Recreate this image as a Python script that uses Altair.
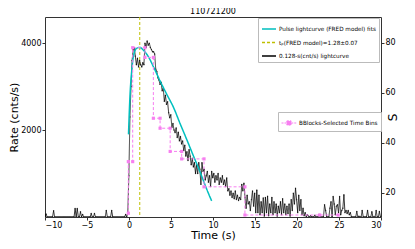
import altair as alt
import pandas as pd

# ---------------- data ----------------
BIN = 0.128
T_START = -10.0
rate = [
    0, 70, 0, 0, 0, 0, 0, 0, 145, 0,
    0, 0, 0, 0, 0, 0, 0, 0, 0, 0,
    0, 0, 0, 0, 0, 0, 0, 0, 195, 0,
    195, 0, 0, 120, 0, 60, 0, 0, 0, 0,
    0, 0, 0, 80, 0, 0, 80, 0, 0, 0,
    0, 0, 0, 0, 0, 0, 0, 150, 0, 0,
    0, 0, 150, 0, 0, 0, 0, 0, 0, 0,
    0, 0, 0, 0, 0, 60, 0, 100, 950, 2300,
    3000, 3600, 3850, 3900, 3700, 3500, 3650, 3450, 3600, 3500,
    3450, 3550, 3500, 4000, 3900, 4050, 3950, 4000, 3900, 3850,
    3800, 3800, 3750, 3400, 3350, 3200, 3150, 3050, 3100, 2900,
    2960, 2660, 2800, 2590, 2650, 2400, 2280, 2350, 2060, 2150,
    2000, 1940, 2050, 1830, 1950, 1750, 1850, 1680, 1750, 1530,
    1650, 1400, 1500, 1300, 1550, 1400, 1200, 1350, 1150, 1250,
    1000, 1200, 1000, 1250, 1100, 750, 1250, 1050, 1100, 850,
    950, 1050, 800, 950, 700, 1050, 900, 1000, 800, 950,
    850, 1000, 750, 900, 800, 950, 750, 850, 700, 900,
    600, 650, 500, 600, 450, 550, 420, 600, 400, 500,
    380, 450, 400, 750, 600, 780, 450, 200, 500, 300,
    350, 150, 400, 600, 250, 550, 100, 620, 100, 500,
    50, 350, 100, 440, 20, 450, 100, 480, 30, 300,
    100, 450, 50, 350, 100, 300, 20, 250, 100, 350,
    50, 420, 100, 300, 50, 250, 80, 300, 20, 400,
    150, 550, 300, 660, 400, 100, 500, 150, 400, 50,
    200, 30, 100, 0, 50, 20, 0, 30, 0, 0,
    0, 40, 0, 0, 0, 60, 0, 0, 0, 0,
    280, 150, 0, 0, 0, 200, 350, 0, 470, 300,
    50, 250, 280, 100, 470, 50, 150, 200, 510, 100,
    150, 80, 150, 50, 100, 0, 0, 0, 0, 0,
    130, 0, 20, 0, 0, 150, 0, 0, 0, 0,
    150, 0, 0, 0, 120, 0, 0, 0, 150, 0,
    0, 130, 0,
]
times = [round(T_START + BIN * i, 3) for i in range(len(rate))]

fred_t = [-0.06, 0.12, 0.32, 0.52, 0.9, 1.28, 1.7, 2.3, 2.9, 3.7, 4.5, 5.3,
          6.1, 6.9, 7.7, 8.45, 9.25, 9.84]
fred_y = [1900, 2800, 3350, 3690, 3880, 3900, 3840, 3690, 3460, 3130, 2820,
          2520, 2140, 1770, 1390, 1040, 640, 370]

tp_value = 1.28

bb_t = [-0.08, -0.08, 0.44, 0.44, 1.9, 1.9, 2.9, 2.9, 3.7, 3.7, 4.9, 4.9,
        6.27, 6.27, 8.93, 8.93, 13.8, 13.8, 22.7, 24.9]
bb_s = [11.7, 32.4, 32.4, 78.1, 78.1, 74.2, 74.2, 49.8, 49.8, 45.8, 45.8,
        36.5, 36.5, 33.5, 33.5, 22.3, 22.3, 11.0, 11.0, 11.0]

LBL_FRED = "Pulse lightcurve (FRED model) fits"
LBL_TP = "t\u209a(FRED model)=1.28\u00b10.07"
LBL_LC = "0.128-s(cnt/s) lightcurve"
LBL_BB = "BBlocks-Selected Time Bins"

CYAN = "#00bfbf"
OLIVE = "#bfbf00"
PINK = "#f77ff0"
FONT = "DejaVu Sans"

df_lc = pd.DataFrame({"t": times, "rate": rate, "series": LBL_LC})
df_fred = pd.DataFrame({"t": fred_t, "rate": fred_y, "series": LBL_FRED})
df_tp = pd.DataFrame({"t": [tp_value], "series": [LBL_TP]})
df_bb = pd.DataFrame({"t": bb_t, "s": bb_s, "series": LBL_BB})

domain = [LBL_FRED, LBL_TP, LBL_LC]
color_scale = alt.Scale(domain=domain, range=[CYAN, OLIVE, "#000000"])
dash_scale = alt.Scale(domain=domain, range=[[1, 0], [3, 2], [1, 0]])

legend_main = alt.Legend(
    title=None, orient="none", legendX=213, legendY=1,
    symbolType="stroke", symbolSize=196, symbolStrokeWidth=1.5,
    labelFontSize=5.7, labelFont=FONT, labelLimit=300, labelOffset=2,
    strokeColor="#bbbbbb", fillColor="white", padding=3, rowPadding=2.5,
)

x_enc = alt.X("t:Q", scale=alt.Scale(domain=[-10, 30], nice=False, zero=False),
              axis=alt.Axis(values=list(range(-10, 31, 5)), title="Time (s)",
                            format="d"))
y_left = alt.Y("rate:Q", scale=alt.Scale(domain=[0, 4600], nice=False),
               axis=alt.Axis(values=[2000, 4000], title="Rate (cnts/s)",
                             orient="left", format="d"))

color_enc = alt.Color("series:N", scale=color_scale, legend=legend_main)
dash_enc = alt.StrokeDash("series:N", scale=dash_scale, legend=legend_main)

lc = alt.Chart(df_lc).mark_line(strokeWidth=0.8, clip=True).encode(
    x=x_enc, y=y_left, color=color_enc, strokeDash=dash_enc)
lc_pts = alt.Chart(df_lc).mark_point(filled=True, size=2, color="black",
                                     clip=True).encode(x=x_enc, y=y_left)
fred = alt.Chart(df_fred).mark_line(strokeWidth=1.5, interpolate="monotone",
                                    clip=True).encode(
    x=x_enc, y=y_left, color=color_enc, strokeDash=dash_enc)
tp = alt.Chart(df_tp).mark_rule(strokeWidth=1).encode(
    x=alt.X("t:Q"), color=color_enc, strokeDash=dash_enc)

left_group = alt.layer(tp, lc, lc_pts, fred)

y_right = alt.Y("s:Q", scale=alt.Scale(domain=[10.2, 90.4], nice=False, zero=False),
                axis=alt.Axis(values=[20, 40, 60, 80], title="S", orient="right",
                              titleAngle=270, titleFontSize=12, format="d"))

bb_line = alt.Chart(df_bb).mark_line(color=PINK, strokeDash=[3, 2],
                                     strokeWidth=1, clip=True).encode(
    x=x_enc, y=y_right)
bb_pts = alt.Chart(df_bb).mark_point(shape="square", filled=True, size=10,
                                     opacity=1, clip=True).encode(
    x=x_enc, y=y_right,
    color=alt.Color("series:N", scale=alt.Scale(domain=[LBL_BB], range=[PINK]),
                    legend=alt.Legend(
                        title=None, orient="none", legendX=233, legendY=95,
                        symbolType="M-1,0L-0.3,0M0.3,0L1,0M-0.28,-0.28L0.28,-0.28L0.28,0.28L-0.28,0.28Z",
                        symbolSize=225, symbolStrokeColor=PINK, symbolFillColor=PINK,
                        symbolStrokeWidth=1, symbolDash=[2, 1],
                        labelFontSize=5.7, labelFont=FONT, labelOffset=2,
                        strokeColor="#bbbbbb", fillColor="white", padding=3)))
right_group = alt.layer(bb_line, bb_pts)

chart = alt.layer(left_group, right_group).resolve_scale(
    y="independent", color="independent", strokeDash="independent"
).properties(
    width=336, height=200,
    title=alt.TitleParams("110721200", fontSize=8, font=FONT,
                          fontWeight="normal", offset=1),
    autosize=alt.AutoSizeParams(type="none"),
    padding={"left": 37, "top": 9, "right": 26, "bottom": 31},
).configure_view(
    stroke="#333333", strokeWidth=1
).configure_axis(
    grid=False, domain=False, labelFont=FONT, titleFont=FONT,
    labelFontSize=8, titleFontSize=11, titleFontWeight="normal",
    tickSize=3, tickColor="#333333", labelColor="black", titleColor="black",
    labelPadding=1,
).configure_axisX(titlePadding=0).configure_axisLeft(titlePadding=1)

chart.save("out.html", embed_options={"renderer": "svg", "actions": False})
